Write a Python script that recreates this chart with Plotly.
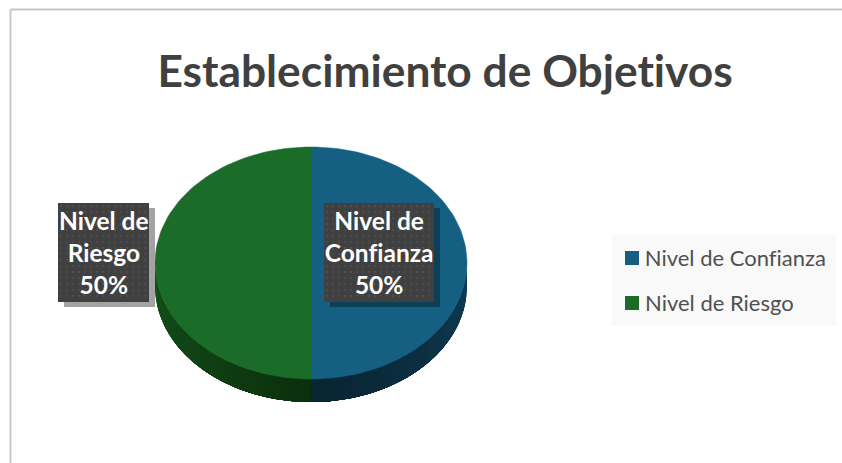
import numpy as np
import plotly.graph_objects as go

title = "Establecimiento de Objetivos"
categories = ["Nivel de Confianza", "Nivel de Riesgo"]
values = [50, 50]
label_lines = [["Nivel de", "Confianza"], ["Nivel de", "Riesgo"]]

COL = ["#156082", "#1c6c29"]
SIDE_OUT = [(15, 60, 82), (20, 82, 28)]
SIDE_IN = [(9, 36, 50), (11, 48, 12)]
W, H = 842, 463
CX, CY, RX, RY, DEPTH = 311, 263, 156, 116, 23
FONT = "Lato, Carlito, 'Open Sans', sans-serif"
BOXES = [(324, 434, 203, 302), (58, 149, 203, 302)]
SHADOW = ["#0e3f58", "#a3a3a3"]
LEGEND_BOX = (612, 836, 235, 326)
LEGEND_Y = [258, 303]

fig = go.Figure()


def arc(t0, t1, n=90, dy=0):
    t = np.radians(np.linspace(t0, t1, n))
    return CX + RX * np.sin(t), CY - RY * np.cos(t) + dy


def poly(x, y, color, width=0.5):
    fig.add_trace(go.Scatter(
        x=list(x), y=list(y), mode="lines", fill="toself", fillcolor=color,
        line=dict(color=color, width=width), showlegend=False, hoverinfo="skip"))


# slice angles come from the values, clockwise from 12 o'clock
total = sum(values)
edges = np.concatenate([[0], np.cumsum(values) / total * 360])

# side wall: visible lower half; each band is painted to the slice end and overlapped by the next
NB = 30
for i in range(len(values)):
    lo, hi = max(edges[i], 90), min(edges[i + 1], 270)
    bands = range(NB) if i == 0 else range(NB - 1, -1, -1)
    for b in bands:
        a0 = lo + (hi - lo) * b / NB
        a1 = lo + (hi - lo) * (b + 1) / NB
        f = abs((a0 + a1) / 2 - 180) / 90
        c = [int(SIDE_IN[i][k] + (SIDE_OUT[i][k] - SIDE_IN[i][k]) * f) for k in range(3)]
        s0, s1 = (a0, hi) if i == 0 else (lo, a1)
        xa, ya = arc(s0, s1, 40)
        xb, yb = arc(s1, s0, 40, DEPTH)
        poly(np.r_[xa, xb, xa[0]], np.r_[ya, yb, ya[0]], f"rgb({c[0]},{c[1]},{c[2]})", 0)

# top face
for i in range(len(values)):
    x, y = arc(edges[i], edges[i + 1])
    poly(np.r_[CX, x, CX], np.r_[CY, y, CY], COL[i])

# data label boxes
for i, (x0, x1, y0, y1) in enumerate(BOXES):
    poly([x0 + 6, x1 + 6, x1 + 6, x0 + 6, x0 + 6], [y0 + 5, y0 + 5, y1 + 5, y1 + 5, y0 + 5], SHADOW[i], 0)
    poly([x0, x1, x1, x0, x0], [y0, y0, y1, y1, y0], "#404040", 0)
    gx, gy = np.meshgrid(np.arange(x0 + 3, x1 - 1, 6), np.arange(y0 + 3, y1 - 1, 6))
    fig.add_trace(go.Scatter(
        x=gx.ravel(), y=gy.ravel(), mode="markers",
        marker=dict(size=2.5, color="#4d4d4d"), showlegend=False, hoverinfo="skip"))
    lines = label_lines[i] + [f"{values[i] / total:.0%}"]
    fig.add_annotation(
        x=(x0 + x1) / 2, y=(y0 + y1) / 2, xref="x", yref="y", showarrow=False,
        text="<br>".join(f"<b>{l}</b>" for l in lines),
        font=dict(family=FONT, size=24.5, color="white"), align="center")

# legend panel, swatches and names
x0, x1, y0, y1 = LEGEND_BOX
poly([x0, x1, x1, x0, x0], [y0, y0, y1, y1, y0], "#f9f9f9", 0)
for i, name in enumerate(categories):
    fig.add_trace(go.Scatter(
        x=[632], y=[LEGEND_Y[i]], mode="markers", showlegend=False, hoverinfo="skip",
        marker=dict(symbol="square", size=14, color=COL[i], line=dict(width=0))))
    fig.add_annotation(x=643, y=LEGEND_Y[i] - 1, xref="x", yref="y", xanchor="left", showarrow=False,
                       text=name, font=dict(family=FONT, size=22, color="#505050"))

# chart frame
fig.add_shape(type="line", xref="paper", yref="paper", x0=10.5 / W, x1=1, y0=1 - 9.5 / H, y1=1 - 9.5 / H,
              line=dict(color="#c8c8c8", width=2))
fig.add_shape(type="line", xref="paper", yref="paper", x0=10.5 / W, x1=10.5 / W, y0=0, y1=1 - 9.5 / H,
              line=dict(color="#c8c8c8", width=2))

fig.add_annotation(x=444.5, y=69, xref="x", yref="y", showarrow=False, text=f"<b>{title}</b>",
                   font=dict(family=FONT, size=44.3, color="#404040"))

fig.update_layout(
    width=W, height=H, margin=dict(l=0, r=0, t=0, b=0),
    paper_bgcolor="white", plot_bgcolor="white", hovermode=False, showlegend=False,
    xaxis=dict(range=[0, W], visible=False, fixedrange=True),
    yaxis=dict(range=[H, 0], visible=False, fixedrange=True),
)
fig.write_html(
    "out.html", config=dict(displayModeBar=False),
    post_script="document.body.style.margin='0';document.body.style.overflow='hidden';"
                "var s=document.createElement('style');"
                "s.textContent='text,tspan{font-variant-ligatures:none!important;"
                "font-feature-settings:\"liga\" 0,\"clig\" 0!important}';document.head.appendChild(s);",
)
